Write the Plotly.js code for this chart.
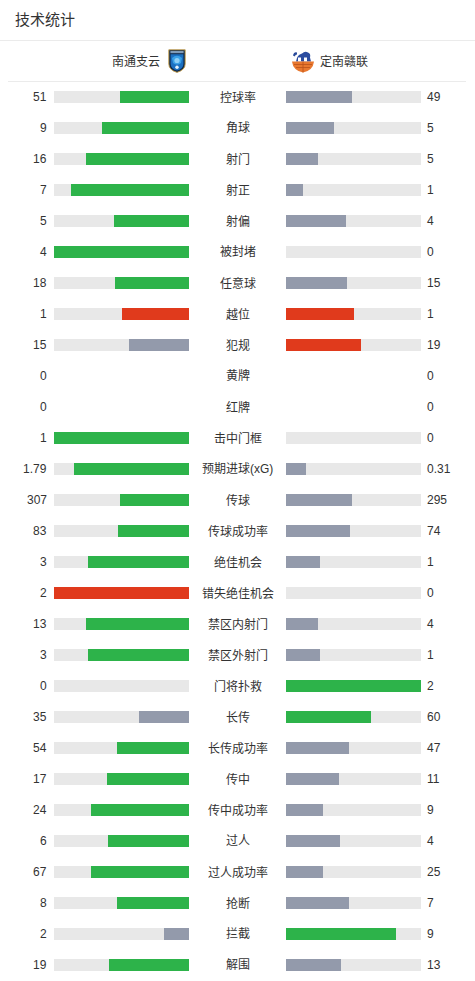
<!DOCTYPE html>
<html>
<head>
<meta charset="utf-8">
<script src="https://cdn.plot.ly/plotly-3.0.1.min.js"></script>
<style>html,body{margin:0;padding:0;background:#fff;}#chart{width:475px;height:981px;}</style>
</head>
<body>
<div id="chart"></div>
<script>
// ---- data ----
const categories = ['控球率','角球','射门','射正','射偏','被封堵','任意球','越位','犯规','黄牌','红牌','击中门框','预期进球(xG)','传球','传球成功率','绝佳机会','错失绝佳机会','禁区内射门','禁区外射门','门将扑救','长传','长传成功率','传中','传中成功率','过人','过人成功率','抢断','拦截','解围'];
const homeLabels = ['51','9','16','7','5','4','18','1','15','0','0','1','1.79','307','83','3','2','13','3','0','35','54','17','24','6','67','8','2','19'];
const awayLabels = ['49','5','5','1','4','0','15','1','19','0','0','0','0.31','295','74','1','0','4','1','2','60','47','11','9','4','25','7','9','13'];
const homeValues = [51,9,16,7,5,4,18,1,15,0,0,1,1.79,307,83,3,2,13,3,0,35,54,17,24,6,67,8,2,19];
const awayValues = [49,5,5,1,4,0,15,1,19,0,0,0,0.31,295,74,1,0,4,1,2,60,47,11,9,4,25,7,9,13];
const negativeStats = ['越位','犯规','错失绝佳机会'];
const teamNames = ['南通支云','定南赣联'];
const chartTitle = '技术统计';

// ---- styles ----
const W = 475, H = 981;
const GREEN = '#2db34a', GRAY = '#939aab', RED = '#e03a1c', TRACK = '#e8e8e8', TXT = '#333333';
const FONT = 'Liberation Sans, Noto Sans CJK SC, sans-serif';
const rowPx0 = 97, rowStep = 31;
const yTop = -rowPx0 / rowStep, yBottom = yTop + H / rowStep;

const rows = categories.map((_, i) => i);
const totals = homeValues.map((v, i) => v + awayValues[i]);
const homeFrac = homeValues.map((v, i) => totals[i] > 0 ? v / totals[i] : 0);
const awayFrac = awayValues.map((v, i) => totals[i] > 0 ? v / totals[i] : 0);
const trackLen = totals.map(t => t > 0 ? 1 : 0);
function colorFor(cat, mine, other) {
  if (negativeStats.includes(cat)) return mine >= other ? RED : GRAY;
  return mine >= other ? GREEN : GRAY;
}
const homeColors = categories.map((c, i) => colorFor(c, homeValues[i], awayValues[i]));
const awayColors = categories.map((c, i) => colorFor(c, awayValues[i], homeValues[i]));

const bw = 12 / rowStep;
const base = {type: 'bar', orientation: 'h', y: rows, width: bw, hoverinfo: 'skip', showlegend: false};
const traces = [
  Object.assign({}, base, {x: trackLen, xaxis: 'x', yaxis: 'y', marker: {color: TRACK}}),
  Object.assign({}, base, {x: homeFrac, xaxis: 'x', yaxis: 'y', marker: {color: homeColors}}),
  Object.assign({}, base, {x: trackLen, xaxis: 'x2', yaxis: 'y', marker: {color: TRACK}}),
  Object.assign({}, base, {x: awayFrac, xaxis: 'x2', yaxis: 'y', marker: {color: awayColors}})
];

const annotations = [];
rows.forEach(i => {
  annotations.push({xref: 'paper', yref: 'y', x: 49 / W, y: i, xanchor: 'right', yanchor: 'middle', text: homeLabels[i], showarrow: false, font: {family: FONT, size: 12, color: TXT}});
  annotations.push({xref: 'paper', yref: 'y', x: 425 / W, y: i, xanchor: 'left', yanchor: 'middle', text: awayLabels[i], showarrow: false, font: {family: FONT, size: 12, color: TXT}});
  annotations.push({xref: 'paper', yref: 'y', x: 237.5 / W, y: i, xanchor: 'center', yanchor: 'middle', text: categories[i], showarrow: false, font: {family: FONT, size: 12, color: TXT}});
});
annotations.push({xref: 'paper', yref: 'paper', x: 162 / W, y: 1 - 61.5 / H, xanchor: 'right', yanchor: 'middle', text: teamNames[0], showarrow: false, font: {family: FONT, size: 12, color: TXT}});
annotations.push({xref: 'paper', yref: 'paper', x: 318 / W, y: 1 - 61.5 / H, xanchor: 'left', yanchor: 'middle', text: teamNames[1], showarrow: false, font: {family: FONT, size: 12, color: TXT}});

const logoHome = "<svg xmlns='http://www.w3.org/2000/svg' width='18' height='24' viewBox='0 0 18 24'>" +
  "<path d='M0.8 0.8 H17.2 V15 Q17.2 21 9 23.4 Q0.8 21 0.8 15 Z' fill='#10294a' stroke='#c9a24a' stroke-width='0.9'/>" +
  "<rect x='2.4' y='2' width='13.2' height='2.2' fill='#7f9bb8'/>" +
  "<path d='M2.6 5.2 H15.4 V15 Q15.4 19.6 9 21.6 Q2.6 19.6 2.6 15 Z' fill='#1b6fc0'/>" +
  "<path d='M4 9 Q9 4.5 14 9 L13 14 Q9 17 5 14 Z' fill='#3aa0e6'/>" +
  "<circle cx='9' cy='11.5' r='2.6' fill='#8fd0f7'/>" +
  "<circle cx='9' cy='18.3' r='1.7' fill='#e2f2fd'/></svg>";
const logoAway = "<svg xmlns='http://www.w3.org/2000/svg' width='24' height='24' viewBox='0 0 24 24'>" +
  "<path d='M2 6 Q3 2 6 3 L6 5 Q4 5 4 7 Z' fill='#2a4a9a'/>" +
  "<path d='M5 12 Q6 5 11 4 Q14 1 17 3 Q20 4 19 8 L20 12 Z' fill='#2c4da0'/>" +
  "<rect x='7' y='8' width='3' height='4' fill='#ffffff'/><rect x='13' y='8' width='3' height='4' fill='#ffffff'/>" +
  "<path d='M1 12 H23 Q22 21 12 23 Q2 21 1 12 Z' fill='#e8772e'/>" +
  "<path d='M3 15 H21 M5 18 H19 M12 12 V23' stroke='#b9521a' stroke-width='0.8' fill='none'/></svg>";

const layout = {
  width: W, height: H,
  margin: {l: 0, r: 0, t: 0, b: 0, pad: 0},
  paper_bgcolor: '#ffffff', plot_bgcolor: 'rgba(0,0,0,0)',
  barmode: 'overlay', bargap: 0,
  title: {text: chartTitle, x: 15 / W, xanchor: 'left', y: 1 - 20 / H, yanchor: 'middle', xref: 'container', yref: 'container', font: {family: FONT, size: 15, color: TXT}},
  xaxis: {domain: [54 / W, 189 / W], range: [1, 0], visible: false, fixedrange: true, anchor: 'y'},
  xaxis2: {domain: [286 / W, 421 / W], range: [0, 1], visible: false, fixedrange: true, anchor: 'y'},
  yaxis: {domain: [0, 1], range: [yBottom, yTop], visible: false, fixedrange: true},
  shapes: [
    {type: 'line', xref: 'paper', yref: 'paper', x0: 0, x1: 1, y0: 1 - 40.5 / H, y1: 1 - 40.5 / H, line: {color: '#ebebeb', width: 1}},
    {type: 'line', xref: 'paper', yref: 'paper', x0: 8 / W, x1: 466 / W, y0: 1 - 81.5 / H, y1: 1 - 81.5 / H, line: {color: '#ebebeb', width: 1}}
  ],
  images: [
    {source: 'data:image/svg+xml;charset=utf-8,' + encodeURIComponent(logoHome), xref: 'paper', yref: 'paper', x: 168 / W, y: 1 - 49 / H, sizex: 18 / W, sizey: 24 / H, xanchor: 'left', yanchor: 'top', sizing: 'stretch', layer: 'above'},
    {source: 'data:image/svg+xml;charset=utf-8,' + encodeURIComponent(logoAway), xref: 'paper', yref: 'paper', x: 291 / W, y: 1 - 49.5 / H, sizex: 24 / W, sizey: 24 / H, xanchor: 'left', yanchor: 'top', sizing: 'stretch', layer: 'above'}
  ],
  annotations: annotations
};

Plotly.newPlot('chart', traces, layout, {displayModeBar: false, staticPlot: true});
</script>
</body>
</html>
